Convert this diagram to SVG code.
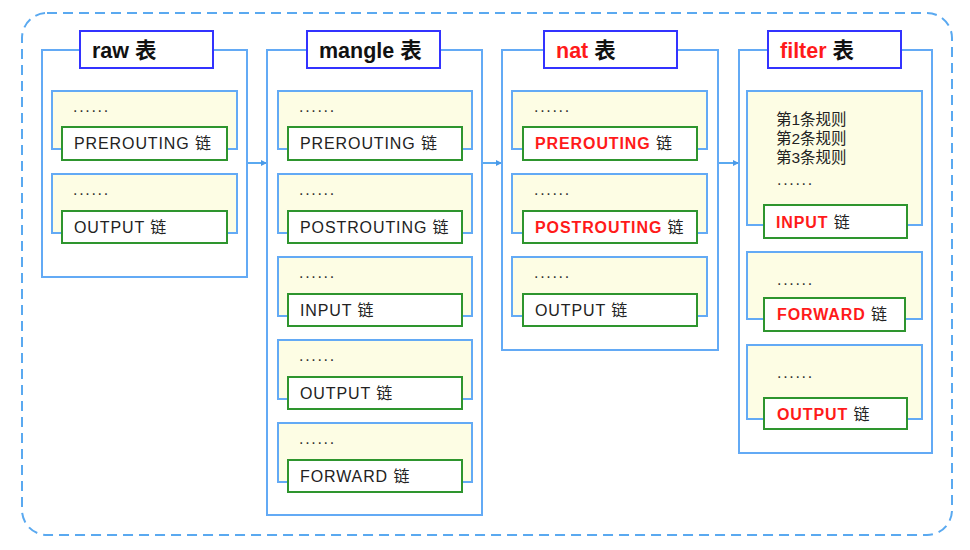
<svg xmlns="http://www.w3.org/2000/svg" width="970" height="550" viewBox="0 0 970 550">
<defs>
<style>
.frame{fill:none;stroke:#5aa9f0;stroke-width:2;stroke-dasharray:10 6}
.tbl{fill:#fff;stroke:#63aaf5;stroke-width:2}
.ttl{fill:#fff;stroke:#3333ff;stroke-width:2}
.sec{fill:#fdfde4;stroke:#63aaf5;stroke-width:2}
.chn{fill:#fff;stroke:#2e952e;stroke-width:2}
.tt{font-family:"Liberation Sans","Noto Sans CJK SC",sans-serif;font-size:21.5px;font-weight:bold;fill:#111}
.lb{font-family:"Liberation Sans","Noto Sans CJK SC",sans-serif;font-size:16px;fill:#222;letter-spacing:0.9px}
.dt{font-family:"Liberation Sans",sans-serif;font-size:16px;fill:#333;letter-spacing:1.7px}
.rl{font-family:"Liberation Sans","Noto Sans CJK SC",sans-serif;font-size:15.5px;fill:#222}
.red{fill:#ff1a1a;font-weight:bold}
.con{stroke:#5aa9f0;stroke-width:2;fill:none}
</style>
<marker id="ar" markerWidth="6" markerHeight="6" refX="5" refY="3" orient="auto" markerUnits="userSpaceOnUse">
<path d="M0,0 L6,3 L0,6 Z" fill="#4a9ae8"/>
</marker>
</defs>
<rect class="frame" x="22" y="13" width="930" height="522" rx="25"/>

<g id="connectors">
<line class="con" x1="247" y1="163" x2="266" y2="163" marker-end="url(#ar)"/>
<line class="con" x1="482" y1="163" x2="501" y2="163" marker-end="url(#ar)"/>
<line class="con" x1="718" y1="163" x2="738" y2="163" marker-end="url(#ar)"/>
</g>

<g id="raw">
<rect class="tbl" x="42" y="50" width="205" height="227"/>
<rect class="ttl" x="80" y="31" width="133" height="37"/>
<text class="tt" x="92" y="58">raw 表</text>
<rect class="sec" x="52" y="91" width="185" height="58"/>
<text class="dt" x="73" y="112">......</text>
<rect class="chn" x="62" y="127" width="165" height="33"/>
<text class="lb" x="74" y="149">PREROUTING 链</text>
<rect class="sec" x="52" y="174" width="185" height="59"/>
<text class="dt" x="73" y="195">......</text>
<rect class="chn" x="62" y="211" width="165" height="32"/>
<text class="lb" x="74" y="233">OUTPUT 链</text>
</g>

<g id="mangle">
<rect class="tbl" x="267" y="50" width="215" height="465"/>
<rect class="ttl" x="307" y="31" width="133" height="37"/>
<text class="tt" x="319" y="58">mangle 表</text>
<rect class="sec" x="278" y="91" width="194" height="58"/>
<text class="dt" x="299" y="112">......</text>
<rect class="chn" x="288" y="127" width="174" height="33"/>
<text class="lb" x="300" y="149">PREROUTING 链</text>
<rect class="sec" x="278" y="174" width="194" height="59"/>
<text class="dt" x="299" y="195">......</text>
<rect class="chn" x="288" y="211" width="174" height="32"/>
<text class="lb" x="300" y="233">POSTROUTING 链</text>
<rect class="sec" x="278" y="257" width="194" height="59"/>
<text class="dt" x="299" y="278">......</text>
<rect class="chn" x="288" y="294" width="174" height="32"/>
<text class="lb" x="300" y="316">INPUT 链</text>
<rect class="sec" x="278" y="340" width="194" height="59"/>
<text class="dt" x="299" y="361">......</text>
<rect class="chn" x="288" y="377" width="174" height="32"/>
<text class="lb" x="300" y="399">OUTPUT 链</text>
<rect class="sec" x="278" y="423" width="194" height="59"/>
<text class="dt" x="299" y="444">......</text>
<rect class="chn" x="288" y="460" width="174" height="32"/>
<text class="lb" x="300" y="482">FORWARD 链</text>
</g>

<g id="nat">
<rect class="tbl" x="502" y="50" width="216" height="300"/>
<rect class="ttl" x="544" y="31" width="133" height="37"/>
<text class="tt" x="556" y="58"><tspan fill="#ff1a1a">nat</tspan> 表</text>
<rect class="sec" x="512" y="91" width="195" height="58"/>
<text class="dt" x="534" y="112">......</text>
<rect class="chn" x="523" y="127" width="174" height="33"/>
<text class="lb" x="535" y="149"><tspan class="red">PREROUTING</tspan> 链</text>
<rect class="sec" x="512" y="174" width="195" height="59"/>
<text class="dt" x="534" y="195">......</text>
<rect class="chn" x="523" y="211" width="174" height="32"/>
<text class="lb" x="535" y="233"><tspan class="red">POSTROUTING</tspan> 链</text>
<rect class="sec" x="512" y="257" width="195" height="59"/>
<text class="dt" x="534" y="278">......</text>
<rect class="chn" x="523" y="294" width="174" height="32"/>
<text class="lb" x="535" y="316">OUTPUT 链</text>
</g>

<g id="filter">
<rect class="tbl" x="739" y="50" width="193" height="403"/>
<rect class="ttl" x="768" y="31" width="133" height="37"/>
<text class="tt" x="780" y="58"><tspan fill="#ff1a1a">filter</tspan> 表</text>
<rect class="sec" x="747" y="91" width="175" height="134"/>
<text class="rl" x="776" y="125">第1条规则</text>
<text class="rl" x="776" y="144">第2条规则</text>
<text class="rl" x="776" y="163">第3条规则</text>
<text class="dt" x="777" y="185">......</text>
<rect class="chn" x="764" y="205" width="143" height="33"/>
<text class="lb" x="776" y="228"><tspan class="red">INPUT</tspan> 链</text>
<rect class="sec" x="747" y="252" width="175" height="67"/>
<text class="dt" x="777" y="285">......</text>
<rect class="chn" x="764" y="298" width="141" height="33"/>
<text class="lb" x="777" y="320"><tspan class="red">FORWARD</tspan> 链</text>
<rect class="sec" x="747" y="345" width="175" height="74"/>
<text class="dt" x="777" y="378">......</text>
<rect class="chn" x="764" y="398" width="143" height="31"/>
<text class="lb" x="777" y="420"><tspan class="red">OUTPUT</tspan> 链</text>
</g>
</svg>
